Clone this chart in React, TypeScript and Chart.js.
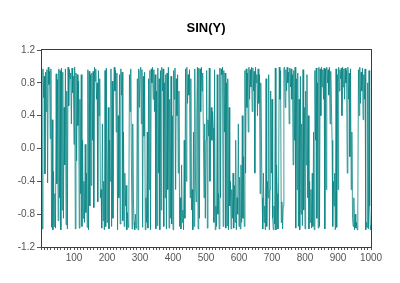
import React, { useEffect, useRef } from "react";
import { Chart, registerables } from "chart.js";

Chart.register(...registerables);

const chartTitle = "SIN(Y)";
const sampleStep = 2; // each value is one sample, every 2 units of the x index
const xTickLabels = [100, 200, 300, 400, 500, 600, 700, 800, 900, 1000];
const yTickValues = [-1.2, -0.8, -0.4, 0.0, 0.4, 0.8, 1.2];

const values = [
  // 0 - 200
  0.95, -0.98, 0.97, 0.62, 0.88, -0.31, 0.93, 0.45, 0.96, -0.42,
  0.99, 0.78, 0.94, 0.12, 0.97, -0.96, 0.35, -0.99, -0.28, -0.95,
  -0.55, -0.97, 0.91, -0.43, 0.84, -0.88, 0.97, -0.6, 0.95, -0.99,
  0.98, -0.75, 0.93, -0.85, 0.5, -0.2, 0.97, -0.93, 0.7, -0.98,
  0.99, 0.52, 0.96, 0.85, 0.92, 0.3, 0.98, 0.68, 0.88, 0.05,
  0.99, -0.98, 0.92, -0.15, 0.9, 0.28, 0.82, -0.97, 0.6, -0.55,
  0.9, -0.95, 0.1, -0.85, -0.4, -0.9, 0.05, -0.78, -0.3, -0.96,
  0.96, -0.99, 0.94, -0.7, 0.9, -0.45, 0.92, 0.1, 0.94, -0.72,
  0.99, 0.82, 0.97, 0.6, 0.8, -0.65, 0.95, 0.4, 0.85, -0.6,
  -0.5, -0.97, 0.3, -0.88, -0.4, -0.99, 0.95, -0.95, 0.98, -0.9,
  // 200 - 400
  -0.3, 0.5, -0.98, 0.1, -0.4, 0.97, -0.95, 0.82, -0.85, 0.6,
  0.99, 0.7, 0.95, 0.2, 0.92, -0.99, 0.4, -0.6, 0.9, -0.92,
  0.97, 0.65, 0.93, -0.88, 0.2, -0.95, -0.3, -0.7, -0.45, -0.99,
  -0.78, -0.96, -0.85, 0.9, 0.45, 0.97, -0.2, -0.98, 0.3, -0.6,
  -0.9, -0.99, -0.8, -0.97, -0.85, 0.85, -0.99, 0.97, 0.5, 0.95,
  0.99, 0.3, 0.96, -0.96, 0.88, 0.15, 0.93, -0.99, -0.6, -0.9,
  0.2, -0.97, 0.85, -0.5, 0.95, -0.99, 0.97, 0.8, 0.99, 0.6,
  0.96, 0.45, 0.9, -0.98, 0.7, -0.94, 0.98, -0.3, 0.85, -0.99,
  0.95, -0.75, 0.99, 0.7, 0.97, -0.95, 0.8, -0.6, 0.9, -0.98,
  0.92, -0.5, 0.99, -0.97, 0.6, -0.85, 0.88, -0.92, 0.4, -0.99,
  // 400 - 600
  0.95, 0.6, 0.98, -0.5, 0.85, 0.4, 0.9, -0.3, 0.7, -0.95,
  -0.6, -0.98, -0.2, -0.9, -0.75, -0.99, 0.1, -0.85, 0.97, -0.4,
  0.99, 0.55, 0.9, 0.65, 0.96, -0.6, 0.85, -0.75, -0.5, -0.99,
  0.2, -0.95, 0.97, -0.3, -0.65, 0.4, 0.99, -0.98, 0.98, -0.85,
  0.97, 0.45, 0.99, 0.7, 0.92, 0.2, -0.6, 0.3, -0.85, 0.1,
  0.95, -0.97, 0.35, 0.15, 0.98, -0.4, 0.3, 0.5, 0.1, 0.45,
  0.25, -0.9, 0.96, -0.99, -0.7, -0.95, 0.9, -0.8, -0.55, -0.98,
  0.98, -0.6, 0.97, 0.9, 0.99, -0.95, 0.95, 0.2, 0.92, -0.97,
  0.8, -0.94, 0.85, -0.99, 0.5, -0.7, -0.4, -0.98, -0.5, -0.85,
  -0.3, -0.97, -0.45, -0.9, 0.1, -0.99, -0.6, -0.8, 0.3, -0.95,
  // 600 - 800
  -0.35, -0.98, -0.2, -0.9, 0.4, -0.85, -0.1, -0.95, 0.95, -0.3,
  0.97, 0.5, 0.92, 0.2, 0.99, 0.6, 0.96, 0.75, 0.99, 0.45,
  0.98, 0.7, 0.94, -0.3, 0.99, 0.8, 0.9, 0.4, 0.97, 0.55,
  0.9, -0.55, 0.8, 0.1, -0.6, -0.98, -0.3, -0.9, -0.7, -0.99,
  0.85, -0.95, -0.4, -0.6, 0.9, -0.99, -0.5, 0.7, -0.3, 0.6,
  -0.85, -0.99, -0.7, -0.92, 0.98, -0.99, -0.2, -0.55, -0.98, -0.4,
  0.99, 0.6, 0.95, -0.9, -0.65, -0.98, -0.7, 0.98, 0.99, 0.5,
  0.96, 0.7, 0.99, 0.8, 0.93, 0.3, 0.98, 0.75, 0.97, 0.6,
  0.9, -0.2, 0.95, 0.1, 0.99, -0.97, 0.85, -0.5, 0.92, -0.95,
  0.6, -0.99, 0.88, -0.8, 0.3, -0.94, 0.96, -0.75, 0.5, -0.98,
  // 800 - 1000
  0.7, -0.2, 0.9, -0.6, 0.4, -0.98, -0.4, -0.9, -0.5, -0.97,
  -0.3, -0.95, 0.2, -0.99, 0.95, 0.1, 0.98, -0.85, 0.8, -0.97,
  0.99, -0.95, 0.97, 0.4, 0.99, 0.75, 0.96, 0.6, 0.98, -0.98,
  0.97, -0.5, 0.99, 0.8, 0.96, 0.65, 0.99, 0.3, 0.94, 0.55,
  0.1, -0.95, -0.4, -0.7, -0.3, -0.99, 0.97, -0.96, 0.9, -0.5,
  0.99, 0.7, 0.96, 0.85, 0.98, 0.4, 0.99, 0.75, 0.97, 0.6,
  0.98, 0.8, 0.95, -0.3, 0.99, 0.6, 0.92, -0.1, 0.97, -0.5,
  0.2, -0.85, -0.95, -0.6, -0.99, -0.8, -0.97, -0.9, -0.99, -0.75,
  0.96, 0.4, 0.99, 0.55, 0.93, 0.7, 0.98, 0.35, 0.9, 0.6,
  0.97, -0.99, -0.9, -0.96, 0.8, -0.98, 0.95, -0.7, -0.99, -0.93,
];

const frameAndTitle = {
  id: "frameAndTitle",
  afterDraw(chart: any) {
    const { ctx, chartArea } = chart;
    ctx.save();
    ctx.strokeStyle = "#3c3c3c";
    ctx.lineWidth = 1;
    ctx.strokeRect(
      Math.round(chartArea.left) + 0.5,
      Math.round(chartArea.top) - 0.5,
      Math.round(chartArea.right - chartArea.left),
      Math.round(chartArea.bottom - chartArea.top) + 1
    );
    ctx.fillStyle = "#000";
    ctx.font = "bold 13px Arial, 'Liberation Sans', sans-serif";
    ctx.textAlign = "center";
    ctx.textBaseline = "middle";
    ctx.fillText(chartTitle, (chartArea.left + chartArea.right) / 2, 28);
    ctx.restore();
  },
};

export default function App() {
  const canvasRef = useRef<HTMLCanvasElement | null>(null);

  useEffect(() => {
    const canvas = canvasRef.current;
    if (!canvas) return;
    const points = values.map((v, i) => ({ x: (i + 1) * sampleStep, y: v }));
    const font = { family: "Arial, 'Liberation Sans', sans-serif", size: 10 };
    const chart = new Chart(canvas, {
      type: "line",
      data: {
        datasets: [
          {
            data: points,
            borderColor: "#0a8585",
            borderWidth: 0.8,
            pointRadius: 0,
            tension: 0,
            fill: false,
          },
        ],
      },
      options: {
        animation: false,
        responsive: false,
        maintainAspectRatio: false,
        layout: { padding: { top: 50, right: 29, left: 0, bottom: 0 } },
        plugins: {
          legend: { display: false },
          title: { display: false },
          tooltip: { enabled: false },
        },
        scales: {
          x: {
            type: "linear",
            min: 0,
            max: 1000,
            afterFit: (s: any) => {
              s.height = 36;
            },
            afterBuildTicks: (s: any) => {
              const t = [];
              for (let v = 0; v <= 1000; v += 10) t.push({ value: v });
              s.ticks = t;
            },
            ticks: {
              autoSkip: false,
              maxRotation: 0,
              minRotation: 0,
              padding: 2,
              color: "#555",
              font,
              callback: (v: any) => (xTickLabels.includes(Number(v)) ? String(v) : ""),
            },
            grid: {
              drawOnChartArea: false,
              drawTicks: true,
              tickLength: 3,
              color: "#555",
            },
            border: { display: true, color: "#3c3c3c" },
          },
          y: {
            type: "linear",
            min: -1.2,
            max: 1.2,
            afterFit: (s: any) => {
              s.width = 41;
            },
            afterBuildTicks: (s: any) => {
              s.ticks = yTickValues.map((v) => ({ value: v }));
            },
            ticks: {
              padding: 2,
              color: "#555",
              font,
              callback: (v: any) => Number(v).toFixed(1),
            },
            grid: {
              drawOnChartArea: false,
              drawTicks: true,
              tickLength: 4,
              color: "#555",
            },
            border: { display: true, color: "#3c3c3c" },
          },
        },
      },
      plugins: [frameAndTitle],
    });
    return () => chart.destroy();
  }, []);

  return (
    <div style={{ position: "absolute", left: 0, top: 0, width: 400, height: 283, background: "#fff" }}>
      <canvas ref={canvasRef} width={400} height={283} style={{ display: "block" }} />
    </div>
  );
}
